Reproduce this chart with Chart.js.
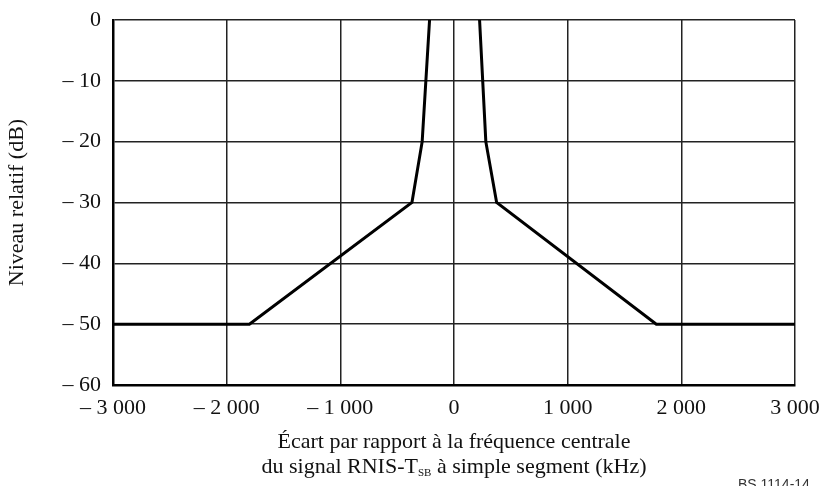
<!DOCTYPE html>
<html>
<head>
<meta charset="utf-8">
<script src="https://cdn.jsdelivr.net/npm/chart.js@4"></script>
<style>
  html, body { margin: 0; padding: 0; background: #fff; }
  #wrap { position: relative; width: 823px; height: 486px; overflow: hidden; }
  #titreX {
    position: absolute; left: 113px; width: 682px; top: 428px;
    text-align: center; font-family: "Liberation Serif", serif; font-size: 22px;
    line-height: 25px; color: #111;
  }
  #titreX sub { font-size: 11px; vertical-align: -3px; }
  #ref {
    position: absolute; left: 738px; top: 476px;
    font-family: "Liberation Sans", sans-serif; font-size: 14px; color: #333;
  }
</style>
</head>
<body>
<div id="wrap">
  <canvas id="graphique" width="823" height="486"></canvas>
  <div id="titreX">Écart par rapport à la fréquence centrale<br>du signal RNIS-T<sub>SB</sub> à simple segment (kHz)</div>
  <div id="ref">BS.1114-14</div>
</div>
<script>
// Gabarit du spectre (kHz, dB), flanc gauche et flanc droit
const ecartGaucheKHz = [-3000, -1800, -370, -280, -215];
const niveauGaucheDB = [-50, -50, -30, -20, 0];
const ecartDroitKHz = [225, 280, 375, 1780, 3000];
const niveauDroitDB = [0, -20, -30, -50, -50];
const ticksX = [-3000, -2000, -1000, 0, 1000, 2000, 3000];
const ticksY = [0, -10, -20, -30, -40, -50, -60];

function formatNombre(v) {
    const abs = Math.abs(v).toString().replace(/\B(?=(\d{3})+(?!\d))/g, ' ');
    return v < 0 ? '\u2013 ' + abs : abs;
}

function serie(xs, ys) {
    return {
        data: xs.map((x, i) => ({ x: x, y: ys[i] })),
        showLine: true,
        borderColor: '#000',
        borderWidth: 3,
        pointRadius: 0,
        fill: false,
        tension: 0
    };
}

const ctx = document.getElementById('graphique').getContext('2d');
new Chart(ctx, {
    type: 'scatter',
    data: {
        datasets: [
            serie(ecartGaucheKHz, niveauGaucheDB),
            serie(ecartDroitKHz, niveauDroitDB)
        ]
    },
    options: {
        responsive: false,
        animation: false,
        layout: { padding: { top: 20, right: 28, bottom: 0, left: 0 } },
        plugins: { legend: { display: false }, tooltip: { enabled: false } },
        scales: {
            x: {
                type: 'linear',
                min: -3000, max: 3000,
                afterBuildTicks: s => { s.ticks = ticksX.map(v => ({ value: v })); },
                afterFit: s => { s.height = 101; s.paddingLeft = 0; s.paddingRight = 0; },
                grid: { color: '#222', lineWidth: 1.5, drawTicks: false },
                border: { color: '#000', width: 2.5 },
                ticks: {
                    color: '#111', padding: 10,
                    font: { family: 'Liberation Serif', size: 22 },
                    maxRotation: 0,
                    callback: v => formatNombre(v)
                }
            },
            y: {
                type: 'linear',
                min: -60, max: 0,
                afterBuildTicks: s => { s.ticks = ticksY.map(v => ({ value: v })); },
                afterFit: s => { s.width = 113; s.paddingTop = 0; s.paddingBottom = 0; },
                grid: { color: '#222', lineWidth: 1.5, drawTicks: false },
                border: { color: '#000', width: 2.5 },
                title: {
                    display: true, text: 'Niveau relatif (dB)', color: '#111',
                    font: { family: 'Liberation Serif', size: 22 }, padding: { top: 4, bottom: 6 }
                },
                ticks: {
                    color: '#111', padding: 12,
                    font: { family: 'Liberation Serif', size: 22 },
                    callback: v => formatNombre(v)
                }
            }
        }
    }
});
</script>
</body>
</html>
